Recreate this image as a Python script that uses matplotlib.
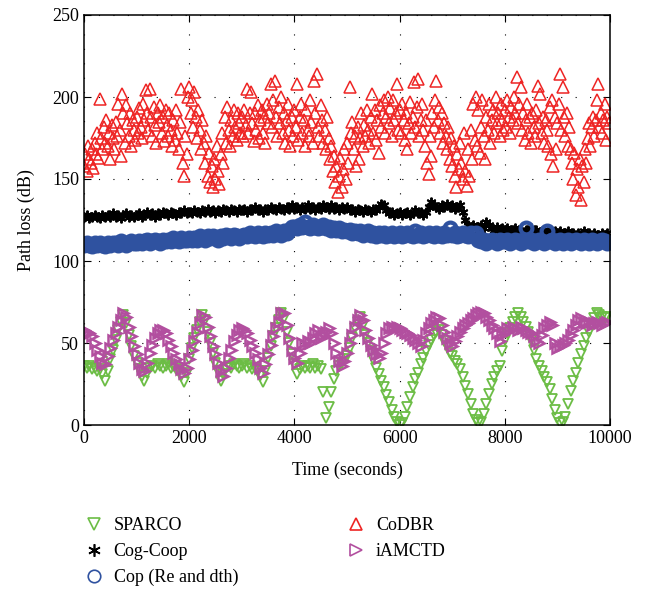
import numpy as np
import matplotlib.pyplot as plt

# sample times (s)
time_s = np.arange(0, 10000, 50)
time_codbr = np.arange(0, 10000, 25)

sparco = [
    36, 35, 36, 34, 35, 33, 34, 31, 27, 33, 40, 46, 52, 58, 63, 67, 62, 55, 48, 42,
    38, 34, 30, 27, 32, 35, 36, 35, 37, 36, 35, 36, 37, 35, 36, 34, 33, 30, 26, 32,
    40, 47, 53, 58, 63, 67, 64, 57, 50, 44, 38, 33, 27, 31, 35, 36, 35, 37, 36, 35,
    36, 37, 35, 36, 34, 35, 33, 30, 26, 33, 41, 48, 54, 59, 64, 68, 65, 57, 50, 43,
    37, 31, 34, 36, 35, 36, 35, 37, 35, 36, 34, 20, 4, 11, 20, 28, 33, 36, 38, 40,
    42, 47, 53, 59, 63, 66, 61, 55, 50, 45, 40, 35, 31, 27, 23, 18, 14, 9, 5, 2,
    0, 1, 5, 11, 17, 23, 28, 32, 37, 41, 45, 49, 52, 55, 57, 58, 55, 51, 48, 44,
    42, 39, 37, 34, 29, 24, 19, 13, 7, 3, 1, 2, 7, 13, 19, 25, 29, 33, 36, 45,
    52, 56, 59, 63, 66, 68, 66, 63, 60, 57, 52, 46, 40, 36, 33, 29, 26, 22, 16, 9,
    4, 1, 2, 5, 13, 21, 27, 32, 38, 43, 48, 53, 57, 61, 65, 68, 67, 66, 65, 66,
]

cog_coop = [
    127, 128, 126, 127, 128, 127, 126, 128, 127, 128, 127, 129, 127, 128, 126, 128, 129, 127, 128, 127,
    128, 129, 127, 128, 130, 128, 129, 127, 129, 128, 130, 129, 128, 130, 129, 128, 130, 129, 131, 129,
    130, 129, 131, 130, 129, 131, 130, 132, 130, 131, 129, 131, 130, 132, 131, 130, 132, 131, 130, 132,
    131, 132, 130, 132, 131, 133, 131, 132, 130, 132, 131, 133, 132, 131, 133, 132, 131, 133, 132, 134,
    132, 133, 131, 133, 132, 134, 132, 133, 131, 133, 132, 134, 133, 132, 134, 132, 133, 131, 133, 132,
    133, 131, 132, 130, 132, 131, 130, 132, 131, 130, 132, 131, 133, 135, 134, 131, 129, 130, 128, 129,
    130, 128, 129, 130, 128, 129, 131, 129, 130, 128, 130, 133, 136, 134, 133, 132, 134, 133, 135, 133,
    134, 132, 133, 134, 130, 125, 122, 121, 122, 120, 121, 122, 120, 124, 122, 120, 119, 121, 119, 120,
    119, 120, 118, 119, 120, 118, 119, 117, 119, 118, 120, 118, 119, 117, 118, 119, 117, 118, 116, 118,
    117, 118, 116, 117, 118, 116, 117, 115, 117, 116, 118, 116, 117, 115, 117, 116, 115, 117, 116, 117,
]

cop = [
    110, 111, 110, 109, 111, 110, 111, 110, 109, 111, 110, 111, 111, 110, 112, 111, 110, 111, 112, 111,
    111, 112, 111, 112, 113, 111, 112, 113, 112, 111, 113, 112, 113, 112, 114, 113, 112, 114, 113, 113,
    114, 113, 114, 113, 115, 114, 113, 115, 114, 115, 114, 113, 115, 114, 116, 115, 114, 116, 115, 114,
    115, 116, 115, 117, 116, 115, 117, 116, 115, 117, 116, 117, 116, 118, 117, 116, 118, 117, 119, 121,
    121, 120, 122, 121, 124, 121, 120, 122, 121, 120, 121, 122, 120, 121, 119, 120, 119, 120, 118, 119,
    118, 119, 117, 118, 117, 118, 116, 117, 118, 116, 117, 115, 117, 116, 117, 115, 116, 117, 115, 116,
    117, 115, 116, 117, 116, 115, 118, 116, 117, 115, 116, 117, 116, 115, 117, 116, 115, 117, 116, 120,
    116, 117, 115, 116, 117, 116, 115, 117, 116, 117, 113, 112, 113, 111, 112, 113, 112, 111, 113, 112,
    112, 113, 111, 112, 113, 112, 111, 113, 120, 112, 113, 111, 112, 113, 112, 111, 118, 112, 113, 111,
    112, 113, 111, 112, 113, 111, 112, 113, 112, 111, 113, 112, 111, 113, 112, 111, 112, 113, 112, 111,
]

codbr = [
    158, 165, 155, 170, 162, 160, 168, 157, 172, 165, 178, 163, 199, 175, 168, 182, 172, 186, 170, 178,
    162, 183, 175, 168, 185, 176, 196, 180, 164, 202, 190, 172, 195, 184, 176, 190, 170, 186, 180, 174,
    188, 178, 193, 182, 175, 196, 186, 204, 190, 180, 205, 188, 176, 194, 183, 172, 190, 185, 195, 178,
    188, 173, 192, 183, 176, 190, 180, 170, 186, 174, 192, 178, 168, 185, 205, 160, 152, 176, 165, 200,
    206, 190, 198, 182, 203, 188, 175, 192, 180, 168, 186, 172, 160, 176, 152, 166, 148, 158, 145, 162,
    150, 170, 155, 147, 165, 178, 160, 188, 172, 194, 180, 170, 186, 176, 192, 182, 174, 190, 184, 178,
    188, 176, 192, 183, 205, 178, 190, 203, 184, 173, 190, 180, 195, 175, 186, 192, 178, 188, 172, 196,
    184, 190, 208, 182, 198, 210, 188, 176, 194, 184, 200, 178, 190, 172, 186, 196, 180, 170, 188, 176,
    192, 182, 208, 174, 188, 196, 178, 186, 170, 192, 180, 176, 198, 185, 172, 210, 190, 214, 182, 176,
    195, 186, 172, 180, 168, 188, 175, 162, 170, 155, 164, 148, 158, 142, 152, 163, 145, 156, 168, 150,
    172, 160, 206, 178, 185, 168, 176, 158, 182, 162, 175, 190, 170, 183, 176, 192, 180, 172, 188, 202,
    178, 192, 174, 186, 166, 195, 182, 190, 198, 178, 188, 200, 184, 193, 176, 198, 186, 190, 208, 180,
    192, 178, 196, 186, 174, 190, 168, 184, 197, 178, 188, 209, 182, 194, 211, 176, 186, 196, 180, 170,
    186, 160, 153, 176, 164, 190, 182, 198, 210, 186, 194, 178, 190, 172, 184, 176, 168, 182, 162, 175,
    158, 170, 152, 145, 165, 156, 172, 160, 150, 178, 155, 146, 168, 152, 180, 162, 196, 174, 200, 170,
    192, 166, 182, 198, 176, 162, 188, 180, 196, 172, 186, 192, 178, 200, 184, 190, 176, 196, 186, 180,
    192, 182, 198, 188, 178, 194, 186, 200, 190, 212, 184, 196, 206, 180, 190, 174, 186, 196, 178, 188,
    172, 190, 182, 176, 192, 207, 184, 202, 178, 188, 172, 186, 180, 170, 194, 165, 198, 158, 188, 168,
    184, 196, 214, 180, 206, 188, 176, 190, 170, 182, 168, 160, 150, 166, 140, 156, 145, 162, 137, 158,
    148, 168, 160, 175, 184, 170, 182, 188, 176, 186, 198, 208, 182, 190, 178, 186, 196, 174, 188, 184,
]

iamctd = [
    58, 57, 56, 54, 50, 46, 42, 38, 37, 42, 47, 52, 56, 60, 64, 68, 66, 60, 54, 48,
    43, 38, 34, 33, 38, 44, 49, 53, 56, 58, 58, 56, 52, 48, 44, 40, 37, 34, 32, 35,
    40, 46, 51, 57, 62, 67, 66, 60, 54, 48, 43, 38, 33, 30, 35, 41, 46, 51, 55, 58,
    59, 58, 56, 52, 48, 44, 40, 35, 32, 37, 43, 49, 54, 59, 63, 68, 68, 61, 53, 46,
    41, 38, 44, 50, 49, 51, 50, 53, 56, 58, 53, 55, 57, 59, 56, 50, 44, 39, 36, 39,
    44, 50, 55, 60, 64, 67, 64, 58, 53, 49, 46, 43, 41, 44, 50, 56, 59, 60, 59, 60,
    59, 58, 57, 56, 55, 53, 52, 50, 48, 52, 56, 59, 62, 64, 66, 65, 61, 57, 53, 50,
    48, 51, 54, 57, 59, 61, 62, 64, 65, 67, 68, 69, 68, 66, 64, 61, 59, 56, 51, 55,
    57, 59, 58, 60, 59, 58, 60, 59, 58, 57, 56, 54, 51, 50, 55, 59, 61, 63, 61, 50,
    47, 48, 49, 50, 52, 55, 58, 61, 64, 65, 63, 62, 63, 61, 62, 63, 62, 61, 62, 63,
]

labels = ["SPARCO", "Cog-Coop", "Cop (Re and dth)", "CoDBR", "iAMCTD"]


def main() -> None:
    plt.rcParams["font.family"] = ["Liberation Serif", "DejaVu Serif"]
    plt.rcParams["font.size"] = 13

    fig = plt.figure(figsize=(6.45, 5.91), dpi=100)
    ax = fig.add_axes([84 / 645, 1 - 425 / 591, 526 / 645, 410 / 591])

    h_sparco, = ax.plot(time_s, sparco, "v", color="#6cbd45", mfc="none",
                        ms=6.5, mew=1.3, linestyle="none")
    h_cog, = ax.plot(time_s, cog_coop, marker=(6, 2, 0), color="black",
                     ms=7, mew=1.4, linestyle="none")
    h_cop, = ax.plot(time_s, cop, "o", color="#2f52a0", mfc="none",
                     ms=8.5, mew=3.0, linestyle="none")
    h_codbr, = ax.plot(time_codbr, codbr, "^", color="#ee2524", mfc="none",
                       ms=8.5, mew=1.1, linestyle="none")
    h_iam, = ax.plot(time_s, iamctd, ">", color="#b24f9f", mfc="none",
                     ms=7, mew=1.8, linestyle="none")

    ax.set_xlim(0, 10000)
    ax.set_ylim(0, 250)
    ax.set_xticks(range(0, 10001, 2000))
    ax.set_yticks(range(0, 251, 50))
    ax.tick_params(direction="in", top=True, right=True, length=5, labelsize=13)
    ax.grid(True, color="black", linestyle=(0, (1, 12)), linewidth=0.8)
    for spine in ax.spines.values():
        spine.set_linewidth(1.1)

    ax.set_xlabel("Time (seconds)", fontsize=13, labelpad=11)
    ax.set_ylabel("Path loss (dB)", fontsize=13, labelpad=12)

    leg = fig.legend(
        [h_sparco, h_cog, h_cop, h_codbr, h_iam],
        labels,
        ncol=2,
        loc="upper left",
        bbox_to_anchor=(0.106, 0.153),
        frameon=False,
        fontsize=13,
        handlelength=1.0,
        handletextpad=0.6,
        columnspacing=6.05,
        labelspacing=0.5,
    )
    # thin legend markers, like the open symbols in the key
    for handle in leg.legend_handles:
        handle.set_markeredgewidth(1.2)
        handle.set_markersize(9)

    fig.savefig("out.png", dpi=100)


if __name__ == "__main__":
    main()
